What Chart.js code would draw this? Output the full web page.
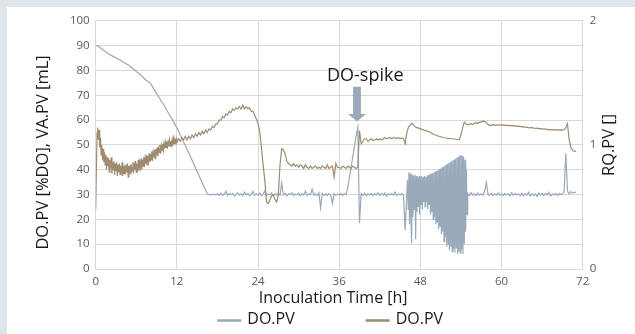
<!DOCTYPE html>
<html lang="en">
<head>
<meta charset="UTF-8">
<title>DO.PV / RQ.PV over inoculation time</title>
<script src="https://cdn.jsdelivr.net/npm/chart.js@4"></script>
<style>
  html, body { margin: 0; padding: 0; background: #fff; }
  body { width: 100%; height: 334px; overflow: hidden; font-family: 'Open Sans', sans-serif; }
  .band-top { position: fixed; left: 0; top: 0; right: 0; height: 7px; background: #dee5eb; }
  .band-left { position: fixed; left: 0; top: 0; bottom: 0; width: 7px; background: #dee5eb; }
  #chart { position: absolute; left: 7px; top: 7px; display: block; }
</style>
</head>
<body>
<div class="band-top"></div>
<div class="band-left"></div>
<canvas id="chart" width="628" height="327"></canvas>
<script>
// ── Data ─────────────────────────────────────────────────────────────────────
// Each log is stored in segments: start time [h], sample step [h], values.

// DO.PV [%DO] – left axis
const doStartA = 0, doStepA = 0.25;
const doValuesA = [
  90, 90, 89.6, 89.0, 88.5, 88.0, 87.5, 87.0, 86.6, 86.2, 85.8, 85.4,
  85.1, 84.7, 84.3, 83.9, 83.5, 83.1, 82.7, 82.3, 81.9, 81.4, 80.8, 80.2,
  79.6, 79.1, 78.6, 77.9, 77.3, 76.6, 76.0, 75.6, 75.2, 74.1, 73.0, 71.9,
  70.8, 69.7, 68.6, 67.5, 66.5, 65.3, 64.1, 62.9, 61.7, 60.6, 59.4, 58.2,
  57.0, 55.6, 54.1, 52.7, 51.2, 49.8, 48.3, 46.8, 45.3, 43.8, 42.3, 40.8,
  39.3, 37.8, 36.3, 34.8, 33.3, 31.8, 30.3, 30.0, 30.1, 29.9, 30.2, 29.8,
  30.3, 29.8, 30.6, 29.6, 30.2, 31.3, 29.7, 30.4, 29.9, 30.5, 29.4, 30.2,
  30.7, 29.8, 30.3, 29.5, 31.0, 29.9, 30.4, 29.6, 30.2, 31.2, 29.7, 30.3,
  29.8, 30.6, 29.5, 30.3, 31.5, 29.6, 30.2, 29.9, 30.6, 29.4, 30.3, 29.8,
  30.4, 29.7, 34.7, 29.8, 30.5, 29.4, 30.3, 29.9, 30.7, 29.6, 30.2, 29.8,
  30.6, 29.5, 30.3, 29.8, 31.4, 29.6, 30.2, 29.9, 32.2, 29.7, 30.4, 29.6,
  30.8, 24.6, 30.5, 29.7, 30.3, 29.6, 30.4, 29.8, 26.5, 30.4, 29.7, 30.2,
  29.8, 30.5, 29.6, 30.3, 30.0, 32.5, 36.7, 40.9, 45.1, 49.4, 53.6, 57.0,
  18.5, 30.4, 29.7, 30.6, 29.5, 30.3, 29.8, 30.5, 29.6, 30.4, 29.9, 30.7,
  29.6, 30.5, 29.8, 30.6, 29.4, 30.3, 29.9, 30.4, 29.7, 31.0, 29.6, 30.2,
  29.8, 30.5, 29.7, 15.6, 30.4
];
// oscillating control phase, 46.1 h – 54.9 h
const doStartB = 46.1, doStepB = 0.1;
const doValuesB = [
  36, 24, 39, 18, 38.5, 22, 10.4, 38, 21, 37.5,
  24, 38, 12, 37.5, 23, 37, 25, 37.5, 22, 37,
  26, 37.5, 24, 37, 27, 37.5, 25, 37.2, 27, 37.6,
  24, 38, 26, 38.2, 22, 38.5, 23, 38.6, 20, 39,
  21, 39.2, 18, 39.5, 19, 39.8, 16, 40.2, 17, 40.5,
  14, 41, 15, 41.2, 11, 41.6, 13, 42, 9, 42.3,
  10, 42.8, 7.5, 43, 9, 43.4, 7, 43.8, 8, 44,
  6.5, 44.4, 8.5, 44.8, 6, 45.2, 7, 45.6, 6.5, 46,
  8, 45.5, 6, 45, 10, 44, 15, 40, 22
];
const doStartC = 55, doStepC = 0.25;
const doValuesC = [
  30.5, 29.6, 30.8, 29.7, 30.4, 29.5, 30.6, 29.8,
  30.3, 29.7, 31.4, 35.0, 30.2, 29.7, 30.5, 29.6, 30.3, 29.8, 30.6, 29.7,
  30.4, 29.6, 30.5, 29.8, 30.3, 29.5, 30.8, 29.7, 30.4, 29.9, 30.2, 29.6,
  30.6, 29.5, 30.3, 29.8, 30.9, 29.4, 30.4, 29.7, 30.3, 29.2, 30.7, 29.8,
  30.4, 29.6, 30.5, 29.8, 30.9, 29.5, 30.3, 29.8, 30.5, 29.7, 30.4, 30.0,
  30.3, 30.9, 46.5, 31.5, 30.2, 31.2, 30.6, 31.0, 30.8
];

// RQ.PV [] – right axis (the original legend labels this series "DO.PV" as well)
const rqStartA = 0, rqStepA = 0.1;
const rqValuesA = [
  0.48, 0.80, 1.10, 1.14, 1.04, 1.12, 0.98, 1.06, 0.92, 1.00,
  0.88, 0.97, 0.86, 0.94, 0.84, 0.92, 0.80, 0.90, 0.83, 0.89,
  0.78, 0.88, 0.81, 0.90, 0.77, 0.86, 0.80, 0.87, 0.76, 0.85,
  0.79, 0.86, 0.75, 0.84, 0.78, 0.85, 0.76, 0.83, 0.79, 0.86,
  0.75, 0.83, 0.77, 0.84, 0.76, 0.82, 0.78, 0.85, 0.74, 0.83,
  0.77, 0.84, 0.76, 0.82, 0.79, 0.86, 0.77, 0.84, 0.80, 0.87,
  0.78, 0.85, 0.81, 0.88, 0.79, 0.86, 0.82, 0.89, 0.80, 0.88,
  0.83, 0.90, 0.82, 0.89, 0.85, 0.92, 0.84, 0.91, 0.87, 0.93,
  0.86, 0.93, 0.88, 0.95, 0.87, 0.94, 0.90, 0.96, 0.89, 0.97,
  0.92, 0.98, 0.91, 0.97, 0.94, 1.00, 0.93, 0.99, 0.95, 1.01,
  0.96, 1.01, 0.97, 1.02, 0.98, 1.03, 0.97, 1.02, 0.99, 1.04,
  0.99, 1.03, 1.00, 1.04, 0.99, 1.05, 1.01, 1.04, 1.02, 1.05
];
const rqStartB = 12, rqStepB = 0.25;
const rqValuesB = [
  1.02, 1.05, 1.03, 1.06, 1.04, 1.07, 1.04, 1.07, 1.05, 1.08, 1.06, 1.09,
  1.07, 1.10, 1.08, 1.11, 1.09, 1.12, 1.10, 1.13, 1.12, 1.15, 1.14, 1.17,
  1.17, 1.20, 1.20, 1.23, 1.22, 1.25, 1.24, 1.27, 1.26, 1.29, 1.28, 1.30,
  1.29, 1.31, 1.29, 1.32, 1.29, 1.31, 1.29, 1.30, 1.27, 1.27, 1.24, 1.21,
  1.17, 1.11, 0.98, 0.84, 0.714, 0.54, 0.528, 0.556, 0.59, 0.596, 0.56, 0.54,
  0.60, 0.84, 0.97, 0.96, 0.93, 0.87, 0.85, 0.84, 0.83, 0.85, 0.83, 0.84,
  0.82, 0.84, 0.83, 0.81, 0.84, 0.82, 0.81, 0.83, 0.81, 0.82, 0.83, 0.81,
  0.82, 0.81, 0.83, 0.82, 0.81, 0.84, 0.81, 0.82, 0.83, 0.74, 0.85, 0.82,
  0.82, 0.81, 0.83, 0.82, 0.81, 0.83, 0.82, 0.81, 0.83, 0.82, 0.81, 0.82,
  1.116, 1.01, 1.03, 1.05, 1.05, 1.03, 1.04, 1.05, 1.036, 1.04, 1.05, 1.04,
  1.05, 1.04, 1.05, 1.06, 1.05, 1.056, 1.06, 1.05, 1.058, 1.06, 1.052, 1.058,
  1.05, 1.056, 1.05, 1.01, 1.10, 1.144, 1.16, 1.176, 1.16, 1.144, 1.14, 1.136,
  1.13, 1.126, 1.12, 1.116, 1.112, 1.106, 1.10, 1.092, 1.084, 1.08, 1.074, 1.07,
  1.066, 1.062, 1.058, 1.056, 1.054, 1.052, 1.05, 1.05, 1.048, 1.046, 1.044, 1.042,
  1.08, 1.14, 1.184, 1.17, 1.162, 1.166, 1.172, 1.164, 1.176, 1.178, 1.174, 1.182,
  1.186, 1.192, 1.19, 1.18, 1.164, 1.156, 1.16, 1.164, 1.158, 1.162, 1.162, 1.16,
  1.16, 1.162, 1.158, 1.16, 1.156, 1.158, 1.154, 1.156, 1.152, 1.154, 1.15, 1.15,
  1.146, 1.148, 1.144, 1.142, 1.14, 1.138, 1.142, 1.136, 1.134, 1.136, 1.132, 1.132,
  1.13, 1.128, 1.13, 1.124, 1.126, 1.122, 1.124, 1.12, 1.124, 1.122, 1.12, 1.122,
  1.12, 1.124, 1.14, 1.17, 1.042, 0.98, 0.96, 0.95, 0.948
];

const seriesLabels = ['DO.PV', 'DO.PV'];
const xTickValues = [0, 12, 24, 36, 48, 60, 72];
const leftTickValues = [0, 10, 20, 30, 40, 50, 60, 70, 80, 90, 100];
const rightTickValues = [0, 1, 2];

const xTitle = 'Inoculation Time [h]';
const leftTitle = 'DO.PV [%DO], VA.PV [mL]';
const rightTitle = 'RQ.PV []';

// DO-spike annotation, in data units (h, %DO)
const spikeLabel = 'DO-spike';
const spikeArrow = { t: 38.63, tip: 59.5, tail: 73.5 };
const spikeLabelAt = { t: 39.85, v: 75.6 };

// ── Styling ──────────────────────────────────────────────────────────────────
const doColor = '#9aa9ba';
const rqColor = '#9e8b71';
const gridColor = '#d9d9d9';
const tickColor = '#595959';
const textColor = '#1a1a1a';
const fontFamily = "'Open Sans', sans-serif";

const segment = (start, step, vals) => vals.map((v, i) => ({ x: start + i * step, y: v }));
const fixTicks = values => scale => { scale.ticks = values.map(v => ({ value: v })); };

const doPoints = [
  ...segment(doStartA, doStepA, doValuesA),
  ...segment(doStartB, doStepB, doValuesB),
  ...segment(doStartC, doStepC, doValuesC)
];
const rqPoints = [
  ...segment(rqStartA, rqStepA, rqValuesA),
  ...segment(rqStartB, rqStepB, rqValuesB)
];

// annotation arrow, axis titles and legend
const overlay = {
  id: 'overlay',
  afterDatasetsDraw(chart) {
    const { ctx, scales: { x, y } } = chart;
    ctx.save();
    const ax = x.getPixelForValue(spikeArrow.t);
    const tip = y.getPixelForValue(spikeArrow.tip);
    const tail = y.getPixelForValue(spikeArrow.tail);
    const headH = 7.5, shaftW = 3.9, headW = 8.9;
    ctx.fillStyle = doColor;
    ctx.beginPath();
    ctx.moveTo(ax - shaftW, tail);
    ctx.lineTo(ax + shaftW, tail);
    ctx.lineTo(ax + shaftW, tip - headH);
    ctx.lineTo(ax + headW, tip - headH);
    ctx.lineTo(ax, tip);
    ctx.lineTo(ax - headW, tip - headH);
    ctx.lineTo(ax - shaftW, tip - headH);
    ctx.closePath();
    ctx.fill();

    ctx.fillStyle = textColor;
    ctx.font = `18px ${fontFamily}`;
    ctx.textAlign = 'center';
    ctx.textBaseline = 'alphabetic';
    ctx.fillText(spikeLabel, x.getPixelForValue(spikeLabelAt.t), y.getPixelForValue(spikeLabelAt.v));
    ctx.restore();
  },
  afterDraw(chart) {
    const { ctx, chartArea } = chart;
    const midX = (chartArea.left + chartArea.right) / 2;
    const midY = (chartArea.top + chartArea.bottom) / 2;

    ctx.save();
    ctx.fillStyle = textColor;
    ctx.textAlign = 'center';
    ctx.textBaseline = 'middle';

    // x title
    ctx.font = `16px ${fontFamily}`;
    ctx.fillText(xTitle, midX - 6, chartArea.bottom + 29);

    // left title
    ctx.font = `16.5px ${fontFamily}`;
    ctx.save();
    ctx.translate(36.5, midY + 7.5);
    ctx.rotate(-Math.PI / 2);
    ctx.fillText(leftTitle, 0, 0);
    ctx.restore();

    // right title (reads bottom-to-top like the left one)
    ctx.save();
    ctx.translate(chartArea.right + 27, midY);
    ctx.rotate(-Math.PI / 2);
    ctx.fillText(rightTitle, 0, 0);
    ctx.restore();

    // legend
    ctx.font = `16px ${fontFamily}`;
    ctx.textAlign = 'left';
    const lineW = 24, gapText = 6, gapItem = 71;
    const items = chart.data.datasets.map(ds => ({ label: ds.label, color: ds.borderColor, w: ctx.measureText(ds.label).width }));
    const total = items.reduce((s, it) => s + lineW + gapText + it.w, 0) + gapItem * (items.length - 1);
    let cx = midX - 9 - total / 2;
    const ly = chartArea.bottom + 50.5;
    for (const it of items) {
      ctx.strokeStyle = it.color;
      ctx.lineWidth = 2.5;
      ctx.beginPath();
      ctx.moveTo(cx, ly + 1);
      ctx.lineTo(cx + lineW, ly + 1);
      ctx.stroke();
      ctx.fillText(it.label, cx + lineW + gapText, ly);
      cx += lineW + gapText + it.w + gapItem;
    }
    ctx.restore();
  }
};

new Chart(document.getElementById('chart'), {
  type: 'line',
  data: {
    datasets: [
      { label: seriesLabels[0], data: doPoints, yAxisID: 'y', borderColor: doColor, borderWidth: 1.2, pointRadius: 0, tension: 0, order: 1 },
      { label: seriesLabels[1], data: rqPoints, yAxisID: 'y2', borderColor: rqColor, borderWidth: 1.2, pointRadius: 0, tension: 0, order: 0 }
    ]
  },
  options: {
    responsive: false,
    animation: false,
    devicePixelRatio: 1,
    layout: { padding: { top: 13, left: 0, right: 0, bottom: 0 } },
    plugins: { legend: { display: false }, tooltip: { enabled: false } },
    scales: {
      x: {
        type: 'linear', min: 0, max: 72,
        afterBuildTicks: fixTicks(xTickValues),
        afterFit: s => { s.height = 65; },
        grid: { color: gridColor, drawTicks: false },
        border: { color: gridColor },
        ticks: { color: tickColor, padding: 6, font: { family: fontFamily, size: 11.5 }, maxRotation: 0 }
      },
      y: {
        position: 'left', min: 0, max: 100,
        afterBuildTicks: fixTicks(leftTickValues),
        afterFit: s => { s.width = 88.7; },
        grid: { color: gridColor, drawTicks: false },
        border: { color: gridColor },
        ticks: { color: tickColor, padding: 6, font: { family: fontFamily, size: 11.5 } }
      },
      y2: {
        position: 'right', min: 0, max: 2,
        afterBuildTicks: fixTicks(rightTickValues),
        afterFit: s => { s.width = 52.3; },
        grid: { display: false, drawTicks: false },
        border: { display: false },
        ticks: { color: tickColor, padding: 7, font: { family: fontFamily, size: 11.5 } }
      }
    }
  },
  plugins: [overlay]
});
</script>
</body>
</html>
